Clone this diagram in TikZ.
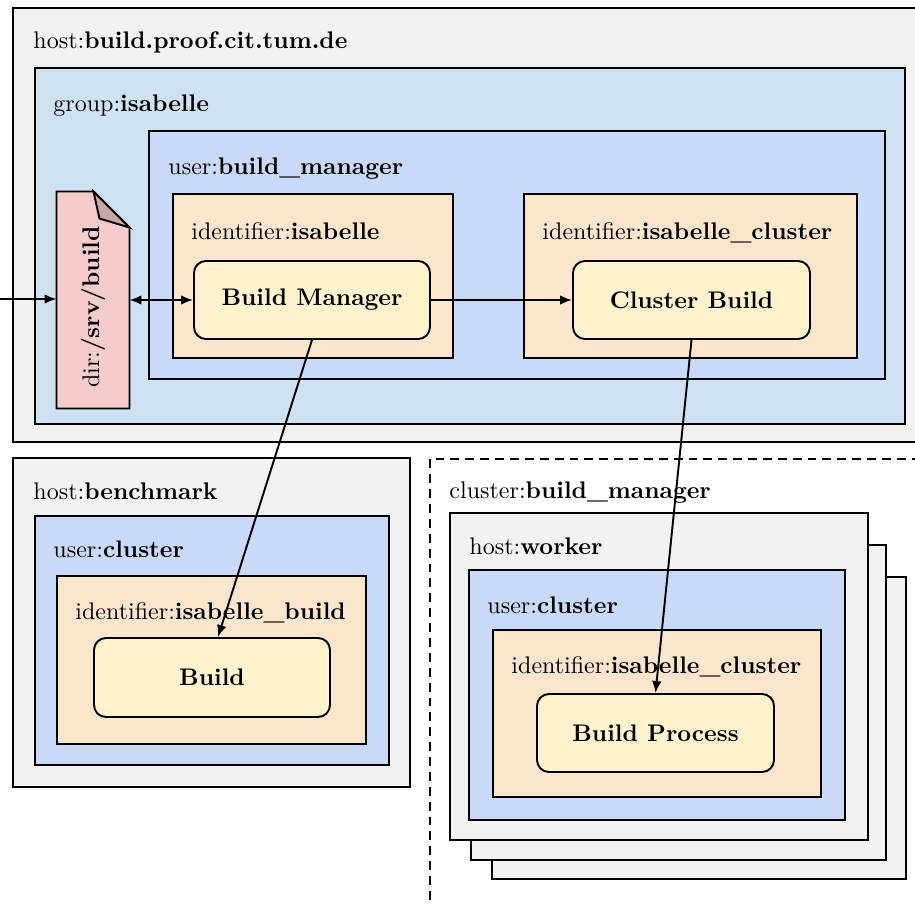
\documentclass[tikz,border=0pt]{standalone}
\usetikzlibrary{fit,arrows.meta,calc}
\definecolor{hostc}{HTML}{F2F2F2}
\definecolor{groupc}{HTML}{CFE2F3}
\definecolor{userc}{HTML}{C9DAF8}
\definecolor{identc}{HTML}{FCE5CD}
\definecolor{procc}{HTML}{FFF2CC}
\definecolor{filec}{HTML}{F4CCCC}
\definecolor{foldc}{HTML}{C9A6A8}
\begin{document}
\begin{tikzpicture}[x=0.41667pt,y=-0.41667pt,
  box/.style={draw, line width=0.8pt, inner sep=0pt},
  hostbox/.style={box, fill=hostc},
  groupbox/.style={box, fill=groupc},
  userbox/.style={box, fill=userc},
  identbox/.style={box, fill=identc},
  clusterbox/.style={draw, line width=0.8pt, inner sep=0pt, dash pattern=on 3.7pt off 2.5pt},
  proc/.style={draw, line width=0.8pt, fill=procc, rounded corners=5pt, inner sep=0pt},
  ptext/.style={font=\bfseries},
  lbl/.style={anchor=base west, inner sep=0pt},
  arr/.style={line width=0.8pt, -{Latex[length=5pt,width=4pt]}},
  darr/.style={line width=0.8pt, {Latex[length=5pt,width=4pt]}-{Latex[length=5pt,width=4pt]}}
]
\useasboundingbox (0,0) rectangle (915,903);
\clip (0,0) rectangle (915,903);

% ---- top host
\node[hostbox, fit={(13,8) (1000,442)}] (hostA) {};
\node[lbl] (hostAl) at (33,48) {host:\textbf{build.proof.cit.tum.de}};
\node[groupbox, fit={(35,68) (905,424)}] (grp) {};
\node[lbl] (grpl) at (53,111) {group:\textbf{isabelle}};
\node[userbox, fit={(149,131) (885,379)}] (ubm) {};
\node[lbl] (ubml) at (168,174) {user:\textbf{build\_manager}};
\node[identbox, fit={(173,194) (453,358)}] (idi) {};
\node[lbl] (idil) at (191,239) {identifier:\textbf{isabelle}};
\node[identbox, fit={(524,194) (857,358)}] (idc) {};
\node[lbl] (idcl) at (542,239) {identifier:\textbf{isabelle\_cluster}};
\node[proc, fit={(194,261) (430,339)}] (bm) {};
\node[ptext] at (bm.center) {Build Manager};
\node[proc, fit={(573,261) (810,339)}] (cb) {};
\node[ptext] at (cb.center) {Cluster Build};

% ---- file
\node[inner sep=0pt, fit={(57,192) (129,408)}] (file) {};
\draw[line width=0.8pt, fill=filec, line join=miter]
  (file.north west) -- ($(file.north east)+(-36,0)$) -- ($(file.north east)+(0,36)$)
  -- (file.south east) -- (file.south west) -- cycle;
\draw[line width=0.8pt, fill=foldc, line join=miter]
  ($(file.north east)+(-36,0)$) -- ($(file.north east)+(-30,27)$) -- ($(file.north east)+(0,36)$) -- cycle;
\node[rotate=90] (filel) at (93,307) {dir:\textbf{/srv/build}};

% ---- benchmark host
\node[hostbox, fit={(13,458) (410,787)}] (hostB) {};
\node[lbl] (hostBl) at (33,499) {host:\textbf{benchmark}};
\node[userbox, fit={(35,516) (389,765)}] (ucl) {};
\node[lbl] (ucll) at (53,557) {user:\textbf{cluster}};
\node[identbox, fit={(57,576) (366,744)}] (idb) {};
\node[lbl] (idbl) at (75,619) {identifier:\textbf{isabelle\_build}};
\node[proc, fit={(94,638) (330,717)}] (b) {};
\node[ptext] at (b.center) {Build};

% ---- cluster
\node[clusterbox, fit={(430,459) (1000,1000)}] (clu) {};
\node[lbl] (clul) at (449,498) {cluster:\textbf{build\_manager}};
\node[hostbox, fit={(492,577) (906,879)}] (w3) {};
\node[hostbox, fit={(471,545) (886,860)}] (w2) {};
\node[hostbox, fit={(450,513) (868,840)}] (w1) {};
\node[lbl] (w1l) at (469,554) {host:\textbf{worker}};
\node[userbox, fit={(469,570) (845,820)}] (uw) {};
\node[lbl] (uwl) at (487,613) {user:\textbf{cluster}};
\node[identbox, fit={(493,630) (821,797)}] (idw) {};
\node[lbl] (idwl) at (511,673) {identifier:\textbf{isabelle\_cluster}};
\node[proc, fit={(537,694) (774,772)}] (bp) {};
\node[ptext] at (bp.center) {Build Process};

% ---- connectors
\coordinate (src) at (-10,299);
\draw[arr] (src) -- (file.west |- src);
\draw[darr] (file.east |- bm.west) -- (bm.west);
\draw[arr] (bm.east) -- (cb.west);
\draw[arr] (bm.south) -- ($(b.north)+(6,0)$);
\draw[arr] (cb.south) -- (bp.north);
\end{tikzpicture}
\end{document}
